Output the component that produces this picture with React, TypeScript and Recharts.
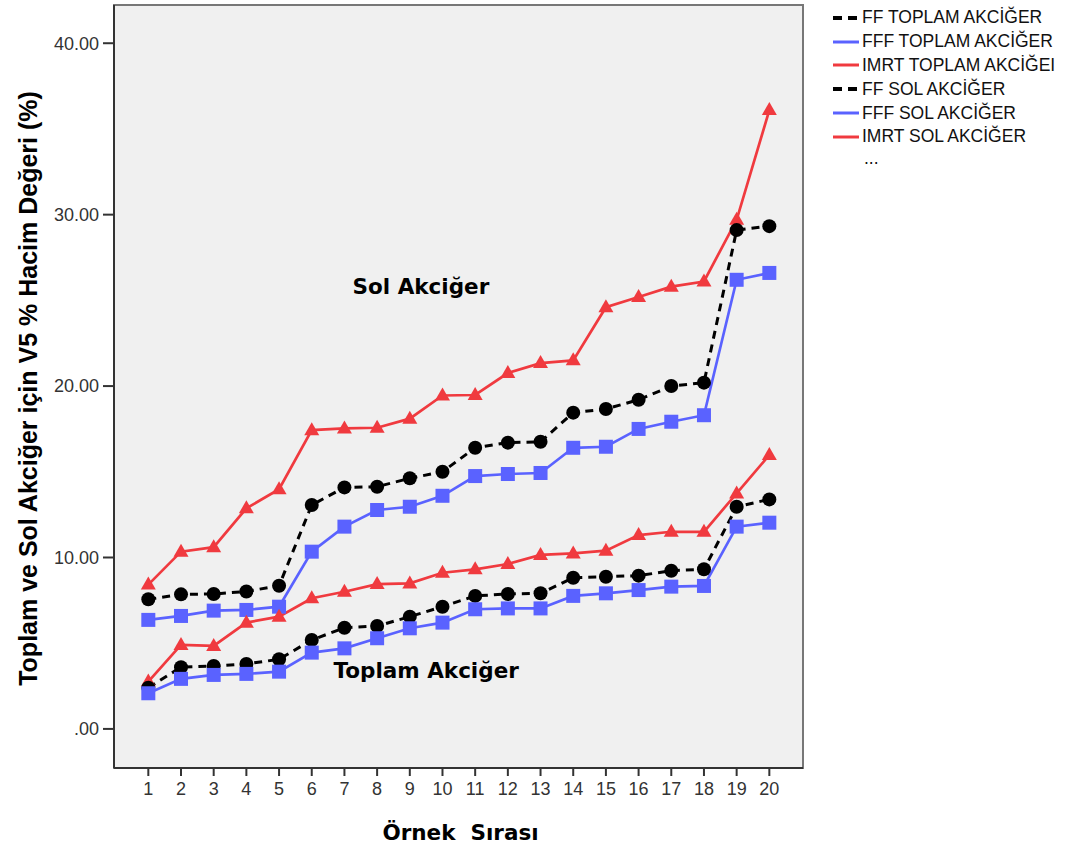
import React from 'react'
import {
  LineChart,
  Line,
  XAxis,
  YAxis,
  CartesianGrid,
  ReferenceArea,
  ReferenceDot
} from 'recharts'

// sample order on the x axis
const samples = [1, 2, 3, 4, 5, 6, 7, 8, 9, 10, 11, 12, 13, 14, 15, 16, 17, 18, 19, 20]

// V5 volume (%) - left lung
const ffSol = [7.56, 7.85, 7.87, 8.02, 8.35, 13.06, 14.09, 14.13, 14.62, 15.0, 16.4, 16.7, 16.75, 18.45, 18.66, 19.2, 20.0, 20.2, 29.1, 29.33]
const fffSol = [6.36, 6.59, 6.9, 6.94, 7.13, 10.34, 11.8, 12.77, 12.96, 13.6, 14.75, 14.87, 14.93, 16.4, 16.46, 17.5, 17.92, 18.3, 26.2, 26.6]
const imrtSol = [8.42, 10.34, 10.6, 12.87, 13.98, 17.43, 17.53, 17.57, 18.1, 19.45, 19.48, 20.76, 21.34, 21.5, 24.6, 25.2, 25.8, 26.1, 29.7, 36.1]

// V5 volume (%) - total lung
const ffToplam = [2.4, 3.6, 3.67, 3.79, 4.06, 5.19, 5.9, 6.0, 6.55, 7.13, 7.76, 7.87, 7.91, 8.82, 8.88, 8.94, 9.23, 9.31, 12.96, 13.39]
const fffToplam = [2.08, 2.92, 3.15, 3.21, 3.34, 4.45, 4.7, 5.29, 5.87, 6.2, 6.98, 7.03, 7.03, 7.76, 7.91, 8.1, 8.3, 8.34, 11.8, 12.03]
const imrtToplam = [2.76, 4.9, 4.84, 6.2, 6.55, 7.62, 8.0, 8.45, 8.49, 9.11, 9.31, 9.62, 10.15, 10.24, 10.4, 11.31, 11.5, 11.5, 13.74, 15.98]

const yTicks = [0, 10, 20, 30, 40]

const legendLabels = [
  'FF TOPLAM AKCİĞER',
  'FFF TOPLAM AKCİĞER',
  'IMRT TOPLAM AKCİĞEI',
  'FF SOL AKCİĞER',
  'FFF SOL AKCİĞER',
  'IMRT SOL AKCİĞER'
]

const BLACK = '#000000'
const BLUE = '#5a62ff'
const RED = '#f03a3f'

const data = samples.map((s, i) => ({
  sample: s,
  ffToplam: ffToplam[i],
  fffToplam: fffToplam[i],
  imrtToplam: imrtToplam[i],
  ffSol: ffSol[i],
  fffSol: fffSol[i],
  imrtSol: imrtSol[i]
}))

const tickFont = '"Liberation Sans", Arial, sans-serif'
const boldFont = '"DejaVu Sans", Verdana, sans-serif'

// eslint-disable-next-line @typescript-eslint/no-explicit-any
const circleDot = (p: any) => (
  <circle key={`c-${p.dataKey}-${p.index}`} cx={p.cx} cy={p.cy} r={7} fill={BLACK} />
)
// eslint-disable-next-line @typescript-eslint/no-explicit-any
const squareDot = (p: any) => (
  <rect key={`s-${p.dataKey}-${p.index}`} x={p.cx - 7} y={p.cy - 7} width={14} height={14} fill={BLUE} />
)
// eslint-disable-next-line @typescript-eslint/no-explicit-any
const triangleDot = (p: any) => (
  <polygon
    key={`t-${p.dataKey}-${p.index}`}
    points={`${p.cx},${p.cy - 8} ${p.cx + 7.5},${p.cy + 5} ${p.cx - 7.5},${p.cy + 5}`}
    fill={RED}
  />
)

// eslint-disable-next-line @typescript-eslint/no-explicit-any
const YTitle = (props: any) => {
  const vb = props.viewBox
  const x = vb.x + 28
  const y = vb.y + vb.height / 2 + 2
  return (
    <text
      x={x}
      y={y}
      transform={`rotate(-90, ${x}, ${y})`}
      textAnchor="middle"
      dominantBaseline="central"
      fontFamily={tickFont}
      fontWeight="bold"
      fontSize={25}
      fill="#000"
    >
      Toplam ve Sol Akciğer için V5 % Hacim Değeri (%)
    </text>
  )
}

// eslint-disable-next-line @typescript-eslint/no-explicit-any
const XTitle = (props: any) => {
  const vb = props.viewBox
  return (
    <text
      x={vb.x + vb.width / 2 + 2}
      y={vb.y + 64}
      textAnchor="middle"
      dominantBaseline="central"
      fontFamily={boldFont}
      fontWeight="bold"
      fontSize={21.5}
      fill="#000"
      xmlSpace="preserve"
    >
      Örnek  Sırası
    </text>
  )
}

const LegendBox = () => (
  <div style={{ position: 'absolute', left: 832, top: 6, fontFamily: tickFont, fontSize: 17.5, color: '#111' }}>
    {legendLabels.map((label, i) => {
      const color = i % 3 === 0 ? BLACK : i % 3 === 1 ? BLUE : RED
      return (
        <div key={label} style={{ height: 23.8, display: 'flex', alignItems: 'center' }}>
          <svg width={30} height={10}>
            <line
              x1={1}
              y1={5}
              x2={27}
              y2={5}
              stroke={color}
              strokeWidth={i % 3 === 0 ? 4 : 3}
              strokeDasharray={i % 3 === 0 ? '9 6' : undefined}
            />
          </svg>
          <span style={{ whiteSpace: 'nowrap' }}>{label}</span>
        </div>
      )
    })}
    <div style={{ height: 23.8, paddingLeft: 32, lineHeight: '18px' }}>...</div>
  </div>
)

export default function App() {
  return (
    <div style={{ position: 'relative', width: 1078, height: 852, background: '#fff' }}>
      <style>{'body{margin:0}'}</style>
      <LineChart width={1078} height={852} data={data} margin={{ top: 5, right: 275, left: 0, bottom: 0 }}>
        <CartesianGrid horizontal={false} vertical={false} fill="#f0f0f0" />
        <XAxis
          dataKey="sample"
          type="number"
          domain={[-0.05, 21.03]}
          ticks={samples}
          interval={0}
          allowDataOverflow
          height={84}
          axisLine={{ stroke: '#333', strokeWidth: 2 }}
          tickLine={{ stroke: '#333', strokeWidth: 2 }}
          tickSize={8}
          tickMargin={6}
          tick={{ fill: '#333', fontSize: 18, fontFamily: tickFont }}
          label={<XTitle />}
        />
        <YAxis
          type="number"
          domain={[-2.28, 42.23]}
          ticks={yTicks}
          allowDataOverflow
          width={114}
          axisLine={{ stroke: '#333', strokeWidth: 2 }}
          tickLine={{ stroke: '#333', strokeWidth: 2 }}
          tickSize={11}
          tickMargin={4}
          tick={{ fill: '#333', fontSize: 18, fontFamily: tickFont }}
          tickFormatter={(v: number) => (v === 0 ? '.00' : v.toFixed(2))}
          label={<YTitle />}
        />
        <ReferenceArea x1={-0.05} x2={21.03} y1={-2.28} y2={42.23} fill="none" stroke="#777" strokeWidth={2} />

        <Line dataKey="imrtSol" stroke={RED} strokeWidth={2.7} dot={triangleDot} activeDot={false} isAnimationActive={false} />
        <Line dataKey="ffSol" stroke={BLACK} strokeWidth={3} strokeDasharray="8 6" dot={circleDot} activeDot={false} isAnimationActive={false} />
        <Line dataKey="fffSol" stroke={BLUE} strokeWidth={2.7} dot={squareDot} activeDot={false} isAnimationActive={false} />
        <Line dataKey="imrtToplam" stroke={RED} strokeWidth={2.7} dot={triangleDot} activeDot={false} isAnimationActive={false} />
        <Line dataKey="ffToplam" stroke={BLACK} strokeWidth={3} strokeDasharray="8 6" dot={circleDot} activeDot={false} isAnimationActive={false} />
        <Line dataKey="fffToplam" stroke={BLUE} strokeWidth={2.7} dot={squareDot} activeDot={false} isAnimationActive={false} />

        <ReferenceDot
          x={9.34}
          y={25.8}
          r={0}
          fill="none"
          stroke="none"
          label={{ value: 'Sol Akciğer', position: 'center', fill: '#000', fontSize: 21.5, fontWeight: 'bold', fontFamily: boldFont }}
        />
        <ReferenceDot
          x={9.5}
          y={3.44}
          r={0}
          fill="none"
          stroke="none"
          label={{ value: 'Toplam Akciğer', position: 'center', fill: '#000', fontSize: 21.5, fontWeight: 'bold', fontFamily: boldFont }}
        />
      </LineChart>
      <LegendBox />
    </div>
  )
}
